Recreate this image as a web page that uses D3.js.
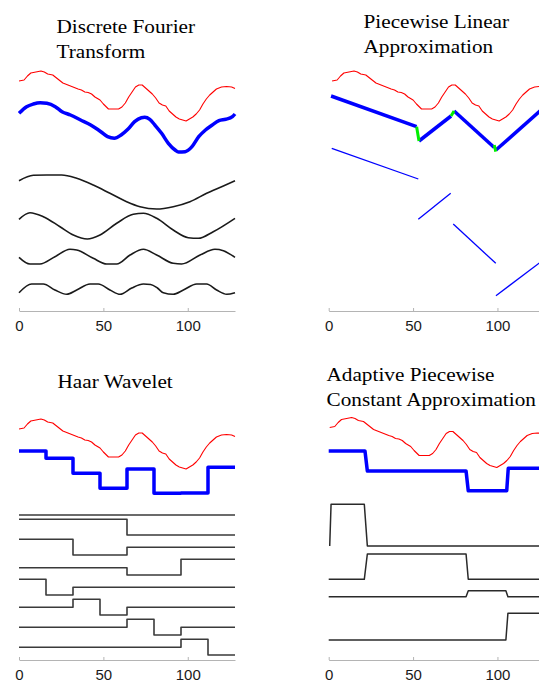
<!DOCTYPE html>
<html>
<head>
<meta charset="utf-8">
<script src="https://cdn.jsdelivr.net/npm/d3@7"></script>
<style>
  body { margin: 0; background: #fff; }
</style>
</head>
<body>
<div id="d3-container"></div>
<script>
/* CONSTANTS AND GLOBALS */
const width = 539,
  height = 684,
  plotWidth = 216;

// the red source series, [t, value]
const signal = [[0,19],[3,20],[5,24],[7,27],[10,28],[13,29],[15,28],[17,26],[20,25],[23,21],[26,17],[29,15],[32,13],[35,11],[37,10],[39,8],[41,7.5],[43,6],[45,3],[48,0],[50,-4],[53,-9],[56,-9],[59,-9],[61,-7],[63,-3],[65,3],[67,8],[69,13],[71,15],[73,15],[75,12],[77,9],[79,6],[81,2],[83,-3],[85,-5],[87,-6],[89,-11],[91,-14],[93,-17],[95,-19],[97,-20],[99,-21],[101,-19],[103,-17],[105,-14],[107,-10],[109,-4],[111,1],[113,5],[115,8],[117,11],[120,13],[123,13.5],[126,13],[128,11.5]];

// DFT reconstruction (blue) and its first four components (black)
const dftApprox = [[0,-13.3],[4.5,-6.7],[8.5,-4],[12.5,-2.7],[16.5,-3.3],[21.5,-6.7],[25.5,-11.7],[30.5,-15],[36.5,-20],[42.5,-25],[48.5,-31.7],[52.5,-36.7],[56.5,-38.3],[60.5,-35],[64.5,-29.3],[68.5,-21.7],[72.5,-17.7],[74.5,-17.3],[77.5,-19.3],[80.5,-25],[84.5,-33.3],[88.5,-43.3],[92.5,-50],[94.5,-52],[98.5,-51.7],[102.5,-46.7],[106.5,-36.7],[110.5,-30],[114.5,-25],[118.5,-20.7],[122.5,-19.3],[126.5,-16.7],[128,-14]];
const dftWave1 = [[0,130.3],[8.5,135.7],[16.4,136],[25.3,136],[34.2,132.7],[44,126],[53.9,117.7],[63.8,109.3],[71.7,104.3],[81.6,102],[91.4,104.3],[101.3,109.3],[111.2,117.7],[121.1,125],[128,130.3]];
const dftWave2 = [[0,91.7],[6.5,98.3],[14.4,94.3],[24.3,84.3],[32.2,76],[40.5,72],[48,76],[57.9,87.7],[67.7,96.7],[73.7,97.7],[81.6,92.7],[91.4,81],[100.3,73.3],[106.3,72.7],[115.1,79.3],[128,92.7]];
const dftWave3 = [[0,53.7],[6.5,47],[12.4,47],[21.3,54.3],[30.2,61.7],[34.2,61],[44,52.7],[52,47],[57.9,47],[65.8,56],[73.7,61.7],[81.6,56],[91.4,47.7],[96.4,47],[107.3,56],[116.1,61.7],[121.1,60.3],[128,53.7]];
const dftWave4 = [[0,18.3],[7.5,27],[14.4,27],[21.3,21],[28.3,16.7],[34.2,21],[42.1,27],[47,27],[53.9,21],[59.9,16.7],[66.8,23],[73.7,27],[78,26.5],[82,23],[85.5,18.3],[91.4,16.7],[97.4,21],[105.3,27],[111.2,27],[117.1,21],[123.1,16.7],[128,18.3]];

// piecewise linear fit: thick segments, green joins, thin pieces
const plaFit = [[[1.4,4],[52.1,-26.7]], [[53.5,-41],[72.5,-16]], [[74.3,-11],[98.1,-47.5]], [[99.1,-50],[128,-6.9]]];
const plaJoins = [[[52.1,-26.7],[53.5,-41]], [[72.5,-16],[74.3,-11]], [[98.1,-45],[99,-51.7]]];
const plaPieces = [[[1.8,-48.3],[53.1,-79]], [[53.1,-119.3],[72.3,-93.3]], [[73.8,-124],[99,-163.3]], [[99.1,-195.7],[128,-159]]];

// Haar: block starts, reconstruction levels, and eight basis rows
const haarBlocks = [0, 16, 32, 48, 64, 80, 96, 112];
const haarApprox = [-3, -10.3, -25.3, -40.3, -21, -45.3, -45, -19.3];
const haarRow1 = [145, 145, 145, 145, 145, 145, 145, 145];
const haarRow2 = [140.7, 140.7, 140.7, 140.7, 125, 125, 125, 125];
const haarRow3 = [120.7, 120.7, 105, 105, 112.8, 112.8, 112.8, 112.8];
const haarRow4 = [92.3, 92.3, 92.3, 92.3, 85, 85, 100.7, 100.7];
const haarRow5 = [80.7, 65, 72.7, 72.7, 72.7, 72.7, 72.7, 72.7];
const haarRow6 = [52.7, 52.7, 60.7, 45, 52.7, 52.7, 52.7, 52.7];
const haarRow7 = [32.7, 32.7, 32.7, 32.7, 40.7, 25, 32.7, 32.7];
const haarRow8 = [12.7, 12.7, 12.7, 12.7, 12.7, 12.7, 20.7, 5];

// adaptive piecewise constant: reconstruction and segment rows
const apcaApprox = [[0,-4.5],[21.5,-4.5],[22.9,-24.5],[81.4,-24.5],[82.7,-44.2],[105.5,-44.2],[106.4,-21.8],[128,-21.8]];
const apcaRow1 = [[0.6,114],[1.4,155.7],[21.1,155.7],[22.9,114],[128,114]];
const apcaRow2 = [[0,80.7],[21.1,80.7],[22.9,106],[81.4,106],[82.7,80.7],[128,80.7]];
const apcaRow3 = [[0,63.3],[81.4,63.3],[82.7,69.3],[105,69.3],[106.2,63.3],[128,63.3]];
const apcaRow4 = [[0,20],[105,20],[106.2,46.7],[128,46.7]];

const xTicks = [0, 50, 100];

let svg;

/* INIT */
function init() {
  svg = d3.select("#d3-container")
    .append("svg")
    .attr("width", width)
    .attr("height", height)
    .style("background", "#fff");

  // + PANEL SETUP (left edge, axis line, where the red series sits)
  const panels = [
    { left: 19, axisY: 311, sigOff: 211, shift: 0, title: ["Discrete Fourier", "Transform"], tx: 56.5, ty: 33.3 },
    { left: 328.7, axisY: 311, sigOff: 211, shift: 2, title: ["Piecewise Linear", "Approximation"], tx: 363.5, ty: 28.3 },
    { left: 19, axisY: 660, sigOff: 212, shift: 0, title: ["Haar Wavelet"], tx: 57.5, ty: 388.3 },
    { left: 328.7, axisY: 660, sigOff: 213.5, shift: 0.6, title: ["Adaptive Piecewise", "Constant Approximation"], tx: 326.5, ty: 381.3 }
  ];

  panels.forEach(p => {
    p.x = d3.scaleLinear().domain([0, 128]).range([p.left, p.left + plotWidth]);
    p.y = d3.scaleLinear().domain([0, 300]).range([p.axisY, p.axisY - 300]);
    p.g = svg.append("g");
    drawAxis(p);
    drawTitle(p);
  });

  const [dft, pla, haar, apca] = panels;

  // + DFT PANEL
  [dftWave1, dftWave2, dftWave3, dftWave4].forEach(w =>
    addLine(dft, w, 0, 0, "#1a1a1a", 1.6, d3.curveMonotoneX));
  addLine(dft, signal, dft.shift, dft.sigOff, "#ff0000", 1.1);
  addLine(dft, dftApprox, 0, dft.sigOff, "#0000ff", 3.5, d3.curveMonotoneX);

  // + PLA PANEL
  addLine(pla, signal, pla.shift, pla.sigOff, "#ff0000", 1.1);
  plaPieces.forEach(s => addLine(pla, s, 0, pla.sigOff, "#0000ff", 1.3));
  plaFit.forEach(s => addLine(pla, s, 0, pla.sigOff, "#0000ff", 3.5));
  plaJoins.forEach(s => addLine(pla, s, 0, pla.sigOff, "#00ee00", 3));

  // + HAAR PANEL
  const toSteps = levels => haarBlocks.map((b, i) => [b, levels[i]])
    .concat([[128, levels[levels.length - 1]]]);
  [haarRow1, haarRow2, haarRow3, haarRow4, haarRow5, haarRow6, haarRow7, haarRow8].forEach(r =>
    addLine(haar, toSteps(r), 0, 0, "#3a3a3a", 1.6, d3.curveStepAfter));
  addLine(haar, signal, haar.shift, haar.sigOff, "#ff0000", 1.1);
  addLine(haar, toSteps(haarApprox), 0, haar.sigOff, "#0000ff", 3.5, d3.curveStepAfter);

  // + APCA PANEL
  [apcaRow1, apcaRow2, apcaRow3, apcaRow4].forEach(r =>
    addLine(apca, r, 0, 0, "#2a2a2a", 1.5));
  addLine(apca, signal, apca.shift, apca.sigOff, "#ff0000", 1.1);
  addLine(apca, apcaApprox, 0, apca.sigOff, "#0000ff", 3.5);
}

function addLine(p, data, shift, off, color, w, curve) {
  const lineGen = d3.line()
    .x(d => p.x(d[0] + shift))
    .y(d => p.y(d[1] + off))
    .curve(curve || d3.curveLinear);
  p.g.append("path")
    .datum(data)
    .attr("fill", "none")
    .attr("stroke", color)
    .attr("stroke-width", w)
    .attr("stroke-linejoin", "round")
    .attr("d", lineGen);
}

function drawAxis(p) {
  const axis = d3.axisBottom(p.x)
    .tickValues(xTicks)
    .tickSizeInner(-3)
    .tickSizeOuter(0)
    .tickPadding(9);
  const ax = p.g.append("g")
    .attr("transform", `translate(0, ${p.axisY})`)
    .call(axis);
  ax.select(".domain").attr("stroke", "#b4b4b4");
  ax.selectAll(".tick line").attr("stroke", "#b4b4b4");
  ax.selectAll(".tick text")
    .attr("fill", "#1a1a1a")
    .attr("font-family", "'Liberation Sans', Arial, sans-serif")
    .attr("font-size", 15);
}

function drawTitle(p) {
  p.title.forEach((t, i) => {
    p.g.append("text")
      .attr("transform", `translate(${p.tx}, ${p.ty + i * 24.6}) scale(1.09, 1)`)
      .attr("font-family", "'Liberation Serif', 'Times New Roman', serif")
      .attr("font-size", 19.5)
      .attr("fill", "#000")
      .text(t);
  });
}

init();
</script>
</body>
</html>
